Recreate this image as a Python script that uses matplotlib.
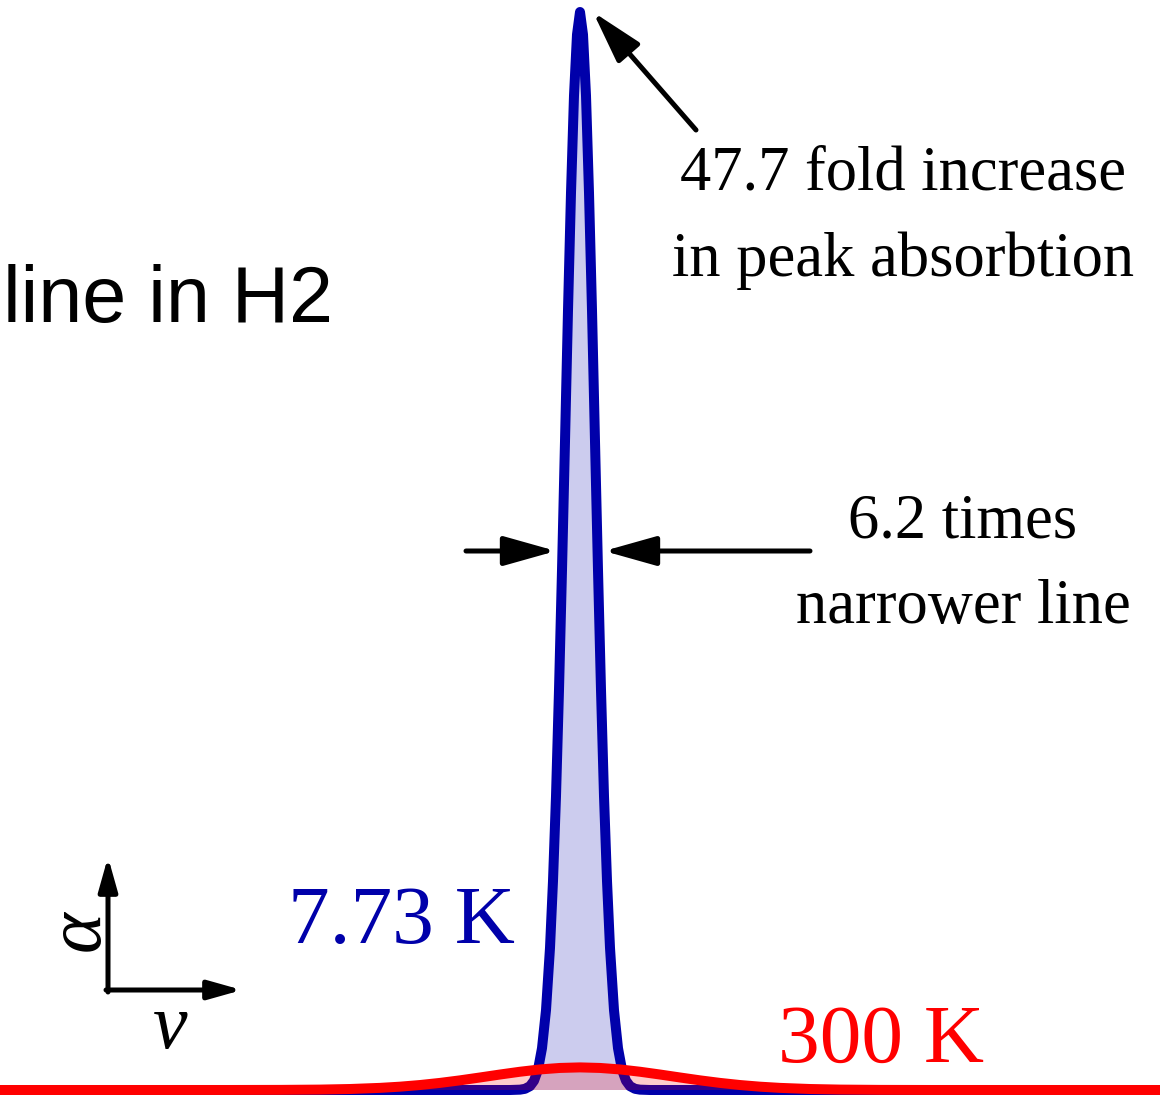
import numpy as np
import matplotlib.pyplot as plt

# line profiles (x: detuning in arb. units, y: absorption, 300 K peak = 1)
x_cold = [-580, -70, -60, -55, -50, -46, -42, -38, -34, -30, -27, -24, -21, -18, -15, -12, -9, -6, -3, 0,
          3, 6, 9, 12, 15, 18, 21, 24, 27, 30, 34, 38, 42, 46, 50, 55, 60, 70, 580]
y_cold = [0, 0, 0.015, 0.053, 0.17, 0.41, 0.90, 1.85, 3.53, 6.29, 9.25, 13.0, 17.7, 23.0, 28.7, 34.5, 39.7, 44.0, 46.7, 47.7,
          46.7, 44.0, 39.7, 34.5, 28.7, 23.0, 17.7, 13.0, 9.25, 6.29, 3.53, 1.85, 0.90, 0.41, 0.17, 0.053, 0.015, 0, 0]

x_warm = [-580, -350, -300, -260, -230, -200, -180, -160, -140, -120, -100, -80, -60, -40, -20, 0,
          20, 40, 60, 80, 100, 120, 140, 160, 180, 200, 230, 260, 300, 350, 580]
y_warm = [0, 0.0007, 0.0049, 0.018, 0.044, 0.094, 0.147, 0.220, 0.314, 0.427, 0.554, 0.685, 0.808, 0.910, 0.976, 1.0,
          0.976, 0.910, 0.808, 0.685, 0.554, 0.427, 0.314, 0.220, 0.147, 0.094, 0.044, 0.018, 0.0049, 0.0007, 0]

cold_label = '7.73 K'
warm_label = '300 K'
peak_note = ['47.7 fold increase', 'in peak absorbtion']
width_note = ['6.2 times', 'narrower line']
title = 'line in H2'

blue = '#0000aa'
red = '#ff0000'
serif = 'Liberation Serif'

W, H = 1160, 1095
fig = plt.figure(figsize=(W / 100, H / 100), dpi=100)
ax = fig.add_axes([0, 0, 1, 1])
ax.set_xlim(-580, 580)
ax.set_ylim(-5 / 22.6, 1090 / 22.6)
ax.axis('off')

ax.fill_between(x_cold, y_cold, 0, color=blue, alpha=0.2, lw=0, zorder=1)
ax.plot(x_cold, y_cold, color=blue, lw=7.2, solid_joinstyle='round', zorder=2)
ax.fill_between(x_warm, y_warm, 0, color=red, alpha=0.2, lw=0, zorder=3)
ax.plot(x_warm, y_warm, color=red, lw=7.2, solid_joinstyle='round', zorder=4)


def fx(px):
    return px / W


def fy(py):
    return 1 - py / H


# text
ax.text(fx(903), fy(190), peak_note[0], transform=ax.transAxes, ha='center', va='baseline',
        fontsize=45, family=serif)
ax.text(fx(903), fy(276), peak_note[1], transform=ax.transAxes, ha='center', va='baseline',
        fontsize=45, family=serif)
ax.text(fx(963), fy(537), width_note[0], transform=ax.transAxes, ha='center', va='baseline',
        fontsize=45, family=serif)
ax.text(fx(963), fy(623), width_note[1], transform=ax.transAxes, ha='center', va='baseline',
        fontsize=45, family=serif)
ax.text(fx(288), fy(943), cold_label, transform=ax.transAxes, ha='left', va='baseline',
        fontsize=60, family=serif, color=blue)
ax.text(fx(778), fy(1062), warm_label, transform=ax.transAxes, ha='left', va='baseline',
        fontsize=60, family=serif, color=red)
ax.text(fx(333), fy(322), title, transform=ax.transAxes, ha='right', va='baseline',
        fontsize=57, family='Liberation Sans')

# annotation arrows
big = dict(arrowstyle='-|>,head_length=1.6,head_width=0.45', mutation_scale=20,
           lw=3.6, color='black', shrinkA=0, shrinkB=0)
ax.annotate('', xy=(fx(593), fy(12)), xytext=(fx(696), fy(130)),
            xycoords='axes fraction', textcoords='axes fraction', arrowprops=big, zorder=6)
ax.annotate('', xy=(fx(556), fy(551)), xytext=(fx(466), fy(551)),
            xycoords='axes fraction', textcoords='axes fraction', arrowprops=big, zorder=6)
ax.annotate('', xy=(fx(604), fy(551)), xytext=(fx(810), fy(551)),
            xycoords='axes fraction', textcoords='axes fraction', arrowprops=big, zorder=6)

# small axes icon
small = dict(arrowstyle='-|>,head_length=1.35,head_width=0.38', mutation_scale=15,
             lw=3.6, color='black', shrinkA=0, shrinkB=0)
ax.annotate('', xy=(fx(108), fy(857)), xytext=(fx(108), fy(992)),
            xycoords='axes fraction', textcoords='axes fraction', arrowprops=small)
ax.annotate('', xy=(fx(242), fy(990)), xytext=(fx(106), fy(990)),
            xycoords='axes fraction', textcoords='axes fraction', arrowprops=small)
ax.text(fx(80), fy(931), 'α', transform=ax.transAxes, ha='center', va='center',
        fontsize=56, family=serif, style='italic', rotation=90)
ax.text(fx(170), fy(1048), 'ν', transform=ax.transAxes, ha='center', va='baseline',
        fontsize=56, family=serif, style='italic')

fig.savefig('out.png', dpi=100)
